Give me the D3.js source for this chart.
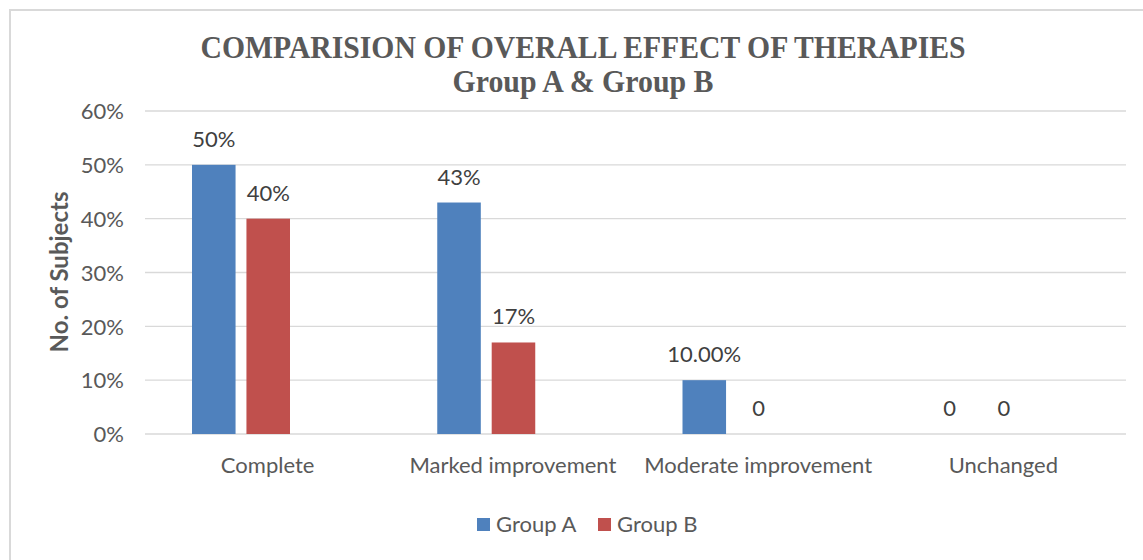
<!DOCTYPE html>
<html>
<head>
<meta charset="utf-8">
<script src="https://cdn.jsdelivr.net/npm/d3@7"></script>
<style>
  body { margin: 0; background: #fff; }
  svg { display: block; }
</style>
</head>
<body>
<div id="chart-area"></div>
<script>
// chart values
var categories = ["Complete", "Marked improvement", "Moderate improvement", "Unchanged"];
var groups = ["Group A", "Group B"];
var groupA = [0.50, 0.43, 0.10, 0];
var groupB = [0.40, 0.17, 0, 0];
var labelsA = ["50%", "43%", "10.00%", "0"];
var labelsB = ["40%", "17%", "0", "0"];
var yTicks = [0, 0.1, 0.2, 0.3, 0.4, 0.5, 0.6];
var colors = ["#4f81bd", "#c0504d"];

var W = 1143, H = 560;
var plot = {left: 145, right: 1126, top: 111, bottom: 434};
var font = "Lato, 'Open Sans', sans-serif";

var svg = d3.select("#chart-area")
  .append("svg")
    .attr("width", W)
    .attr("height", H);

// chart border
svg.append("rect")
  .attr("x", 10).attr("y", 10)
  .attr("width", W - 9).attr("height", H)
  .attr("fill", "#fff")
  .attr("stroke", "#d9d9d9")
  .attr("stroke-width", 2);

// Scales
var x = d3.scaleBand()
  .domain(categories)
  .range([plot.left, plot.right]);

// bars sit a little left of the category centre, as in the original
var xInner = d3.scaleBand()
  .domain(groups)
  .range([47, 145])
  .paddingInner(0.2);

var y = d3.scaleLinear()
  .domain([0, 0.6])
  .range([plot.bottom, plot.top]);

// gridlines
svg.append("g")
  .selectAll("line")
  .data(yTicks)
  .enter().append("line")
    .attr("x1", plot.left).attr("x2", plot.right)
    .attr("y1", function (d) { return y(d); })
    .attr("y2", function (d) { return y(d); })
    .attr("stroke", "#d9d9d9")
    .attr("stroke-width", 1.3);

// Y Axis
var yAxis = svg.append("g")
  .attr("transform", "translate(" + (plot.left - 21) + ",0)")
  .call(d3.axisLeft(y).tickValues(yTicks).tickFormat(d3.format(".0%")).tickSize(0).tickPadding(0));
yAxis.select(".domain").remove();
yAxis.selectAll("text")
  .attr("font-family", font)
  .attr("font-size", "22px")
  .attr("fill", "#595959")
  .attr("dy", "0.35em");

// X Axis
var xAxis = svg.append("g")
  .attr("transform", "translate(0," + plot.bottom + ")")
  .call(d3.axisBottom(x).tickSize(0).tickPadding(0));
xAxis.select(".domain").remove();
xAxis.selectAll("text")
  .attr("font-family", font)
  .attr("font-size", "22px")
  .attr("fill", "#595959")
  .attr("y", 39)
  .attr("dy", 0);

// bars
var rows = categories.map(function (c, i) {
  return [
    { cat: c, group: groups[0], value: groupA[i], label: labelsA[i], color: colors[0] },
    { cat: c, group: groups[1], value: groupB[i], label: labelsB[i], color: colors[1] }
  ];
});

var cat = svg.append("g")
  .selectAll("g")
  .data(rows)
  .enter().append("g")
    .attr("transform", function (d) { return "translate(" + x(d[0].cat) + ",0)"; });

cat.selectAll("rect")
  .data(function (d) { return d; })
  .enter().append("rect")
    .attr("x", function (d) { return xInner(d.group); })
    .attr("width", xInner.bandwidth())
    .attr("y", function (d) { return y(d.value); })
    .attr("height", function (d) { return plot.bottom - y(d.value); })
    .attr("fill", function (d) { return d.color; });

cat.selectAll("text")
  .data(function (d) { return d; })
  .enter().append("text")
    .attr("x", function (d) { return xInner(d.group) + xInner.bandwidth() / 2; })
    .attr("y", function (d) { return y(d.value) - 18; })
    .attr("text-anchor", "middle")
    .attr("font-family", font)
    .attr("font-size", "22px")
    .attr("fill", "#404040")
    .text(function (d) { return d.label; });

// Y Label
svg.append("text")
  .attr("transform", "translate(68,272) rotate(-90)")
  .attr("text-anchor", "middle")
  .attr("font-family", font)
  .attr("font-size", "24px")
  .attr("font-weight", "bold")
  .attr("fill", "#595959")
  .text("No. of Subjects");

// Title
var title = svg.append("text")
  .attr("text-anchor", "middle")
  .attr("font-family", "'Liberation Serif', 'Times New Roman', serif")
  .attr("font-weight", "bold")
  .attr("font-size", "31px")
  .attr("fill", "#595959");
title.append("tspan")
  .attr("x", 583).attr("y", 58)
  .attr("textLength", 765)
  .attr("lengthAdjust", "spacingAndGlyphs")
  .text("COMPARISION OF OVERALL EFFECT OF THERAPIES");
title.append("tspan")
  .attr("x", 583).attr("y", 92)
  .attr("textLength", 261)
  .attr("lengthAdjust", "spacingAndGlyphs")
  .text("Group A & Group B");

// Legend
var legend = svg.append("g")
  .selectAll("g")
  .data(groups)
  .enter().append("g")
    .attr("transform", function (d, i) { return "translate(" + (477 + i * 121) + ",518)"; });

legend.append("rect")
  .attr("width", 13).attr("height", 13)
  .attr("fill", function (d, i) { return colors[i]; });

legend.append("text")
  .attr("x", 19).attr("y", 14)
  .attr("font-family", font)
  .attr("font-size", "22px")
  .attr("fill", "#595959")
  .text(function (d) { return d; });
</script>
</body>
</html>
